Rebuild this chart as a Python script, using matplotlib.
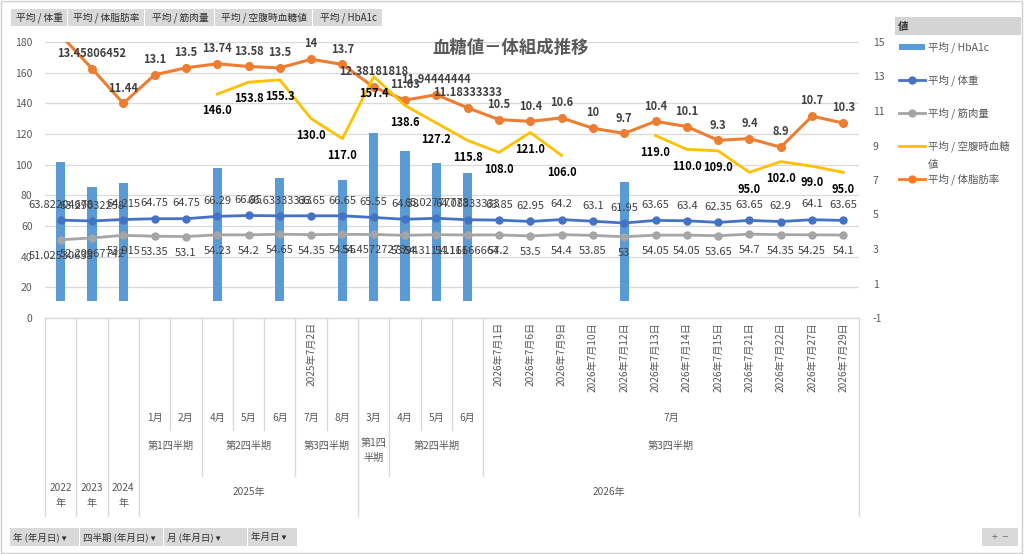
import numpy as np
import matplotlib
matplotlib.use("Agg")
import matplotlib.pyplot as plt
from matplotlib.patches import Rectangle
from matplotlib.lines import Line2D
from matplotlib.transforms import blended_transform_factory

plt.rcParams['font.family'] = ['Noto Sans CJK JP', 'DejaVu Sans']
plt.rcParams['axes.unicode_minus'] = False

nan = np.nan
# ---------------- data ----------------
years = ["2022年", "2023年", "2024年", "2025年", "2026年"]
date_labels = {8: "2025年7月2日", 14: "2026年7月1日", 15: "2026年7月6日", 16: "2026年7月9日",
               17: "2026年7月10日", 18: "2026年7月12日", 19: "2026年7月13日", 20: "2026年7月14日",
               21: "2026年7月15日", 22: "2026年7月21日", 23: "2026年7月22日", 24: "2026年7月27日",
               25: "2026年7月29日"}
month_labels = {3: "1月", 4: "2月", 5: "4月", 6: "5月", 7: "6月", 8: "7月", 9: "8月",
                10: "3月", 11: "4月", 12: "5月", 13: "6月"}
month_span_label = ("7月", 14, 25)
quarter_labels = [("第1四半期", 3, 4), ("第2四半期", 5, 7), ("第3四半期", 8, 9),
                  ("第1四\n半期", 10, 10), ("第2四半期", 11, 13), ("第3四半期", 14, 25)]
year_labels = [("2022\n年", 0, 0), ("2023\n年", 1, 1), ("2024\n年", 2, 2),
               ("2025年", 3, 9), ("2026年", 10, 25)]

hba1c = [8.06, 6.58, 6.81, nan, nan, 7.72, nan, 7.10, nan, 7.0, 9.7, 8.70, 8.0, 7.39,
         nan, nan, nan, nan, 6.9, nan, nan, nan, nan, nan, nan, nan]
weight = [63.82204678, 63.29032258, 64.215, 64.75, 64.75, 66.29, 66.85, 66.63333333, 66.65,
          66.65, 65.55, 64.38, 65.02777778, 64.08333333, 63.85, 62.95, 64.2, 63.1, 61.95,
          63.65, 63.4, 62.35, 63.65, 62.9, 64.1, 63.65]
muscle = [51.02530638, 52.20967742, 53.915, 53.35, 53.1, 54.23, 54.2, 54.65, 54.35, 54.55,
          54.45727273, 53.94, 54.31111111, 54.16666667, 54.2, 53.5, 54.4, 53.85, 53.0,
          54.05, 54.05, 53.65, 54.7, 54.35, 54.25, 54.1]
glucose = [nan, nan, nan, nan, nan, 146.0, 153.8, 155.3, 130.0, 117.0, 157.4, 138.6, 127.2,
           115.8, 108.0, 121.0, 106.0, nan, nan, 119.0, 110.0, 109.0, 95.0, 102.0, 99.0, 95.0]
fat = [15.4, 13.45806452, 11.44, 13.1, 13.5, 13.74, 13.58, 13.5, 14, 13.7, 12.38181818, 11.63,
       11.94444444, 11.18333333, 10.5, 10.4, 10.6, 10, 9.7, 10.4, 10.1, 9.3, 9.4, 8.9, 10.7, 10.3]

field_buttons = ["平均 / 体重", "平均 / 体脂肪率", "平均 / 筋肉量", "平均 / 空腹時血糖値", "平均 / HbA1c"]
leg_texts = ["平均 / HbA1c", "平均 / 体重", "平均 / 筋肉量", "平均 / 空腹時血糖", "平均 / 体脂肪率"]
left_ticks = list(range(0, 181, 20))
right_ticks = list(range(-1, 16, 2))

C_BAR = "#5B9BD5"; C_W = "#4472C4"; C_M = "#A5A5A5"; C_G = "#FFC000"; C_F = "#ED7D31"
TXT = "#595959"; LBL = "#404040"

W, H = 1024, 554
fig = plt.figure(figsize=(W / 100, H / 100), dpi=100)
fig.patch.set_facecolor("white")

def fy(py):
    return 1 - py / H

def fx(px):
    return px / W

L, R, T, B = 45, 859, 42, 318
rect = [fx(L), fy(B), fx(R) - fx(L), fy(T) - fy(B)]
ax = fig.add_axes(rect)          # background: grid + left ticks
ax_r = ax.twinx()                # right scale: bars + fat
ax_l = ax.twinx()                # left scale lines on top

n = len(weight)
x = np.arange(n)
for a in (ax, ax_r, ax_l):
    a.set_xlim(-0.5, n - 0.5)
    for s in a.spines.values():
        s.set_visible(False)
    a.set_xticks([])
    a.patch.set_visible(False)
ax.set_ylim(0, 180)
ax_l.set_ylim(0, 180)
ax_r.set_ylim(-1, 15)

ax.set_yticks(left_ticks)
ax.yaxis.grid(True, color="#D9D9D9", lw=0.9)
ax.tick_params(axis='y', length=0, pad=9, labelsize=7.5, labelcolor=TXT)
ax_r.set_yticks(right_ticks)
ax_r.tick_params(axis='y', length=0, pad=10, labelsize=7.5, labelcolor=TXT)
ax_l.set_yticks([])

# bars (secondary)
ax_r.bar(x, hba1c, width=0.29, color=C_BAR, zorder=2)
# fat line (secondary)
ax_r.plot(x, fat, color=C_F, lw=2.2, marker='o', ms=5.5, zorder=3)
# primary lines
ax_l.plot(x, weight, color=C_W, lw=2.0, marker='o', ms=5, zorder=3)
ax_l.plot(x, muscle, color=C_M, lw=2.0, marker='o', ms=5, zorder=3)
ax_l.plot(x, glucose, color=C_G, lw=2.0, zorder=3)

def fmt_g(v):
    return f"{v:.10g}"

for i in range(n):
    ax_l.annotate(fmt_g(weight[i]), (x[i], weight[i]), xytext=(0, 11), textcoords='offset points',
                  ha='center', va='center', fontsize=8, color=LBL, zorder=5)
    ax_l.annotate(fmt_g(muscle[i]), (x[i], muscle[i]), xytext=(0, -11.5), textcoords='offset points',
                  ha='center', va='center', fontsize=8, color=LBL, zorder=5)
    if not np.isnan(glucose[i]):
        ax_l.annotate(f"{glucose[i]:.1f}", (x[i], glucose[i]), xytext=(0, -12), textcoords='offset points',
                      ha='center', va='center', fontsize=8, color="black", fontweight='bold', zorder=5)
    ax_r.annotate(fmt_g(fat[i]), (x[i], fat[i]), xytext=(0, 11), textcoords='offset points',
                  ha='center', va='center', fontsize=8, color=LBL, fontweight='bold', zorder=5)

# title
fig.text(fx(511), fy(48), "血糖値－体組成推移", ha='center', va='center', fontsize=12.5,
         fontweight='bold', color=TXT)

# ---------------- category axis table ----------------
tr = blended_transform_factory(ax.transData, fig.transFigure)
line_c = "#D9D9D9"
fig.add_artist(Line2D([-0.5, n - 0.5], [fy(B), fy(B)], transform=tr, color=line_c, lw=1))
full_b, month_b, quarter_b = fy(516), fy(430), fy(476)
bounds = {0: full_b, 1: full_b, 2: full_b, 3: full_b, 4: month_b, 5: quarter_b, 6: month_b,
          7: month_b, 8: quarter_b, 9: month_b, 10: full_b, 11: quarter_b, 12: month_b,
          13: month_b, 14: quarter_b, n: full_b}
for k, yb in bounds.items():
    fig.add_artist(Line2D([k - 0.5, k - 0.5], [fy(B), yb], transform=tr, color=line_c, lw=1))

cat_fs = 7.3
for k, s in date_labels.items():
    fig.text(k, fy(322), s, transform=tr, rotation=90, ha='center', va='top',
             fontsize=cat_fs, color=TXT)
for k, s in month_labels.items():
    fig.text(k, fy(418), s, transform=tr, ha='center', va='center', fontsize=cat_fs, color=TXT)
s, a0, a1 = month_span_label
fig.text((a0 + a1) / 2, fy(418), s, transform=tr, ha='center', va='center', fontsize=cat_fs, color=TXT)
for s, a0, a1 in quarter_labels:
    if "\n" in s:
        fig.text((a0 + a1) / 2, fy(438), s, transform=tr, ha='center', va='top',
                 fontsize=cat_fs, color=TXT, linespacing=1.6)
    else:
        fig.text((a0 + a1) / 2, fy(446), s, transform=tr, ha='center', va='center',
                 fontsize=cat_fs, color=TXT)
for s, a0, a1 in year_labels:
    if "\n" in s:
        fig.text((a0 + a1) / 2, fy(483), s, transform=tr, ha='center', va='top',
                 fontsize=cat_fs, color=TXT, linespacing=1.6)
    else:
        fig.text((a0 + a1) / 2, fy(492), s, transform=tr, ha='center', va='center',
                 fontsize=cat_fs, color=TXT)

# ---------------- legend (manual) ----------------
fig.add_artist(Rectangle((fx(895), fy(35)), fx(1021) - fx(895), fy(17) - fy(35),
                         transform=fig.transFigure, facecolor="#D4D4D4", edgecolor="none"))
fig.text(fx(898), fy(26.5), "値", ha='left', va='center', fontsize=7.5, fontweight='bold', color="#303030")
ly = [47, 80, 113, 146, 179]
x0, x1 = fx(899), fx(925)
fig.add_artist(Rectangle((x0, fy(50)), x1 - x0, fy(44) - fy(50), transform=fig.transFigure,
                         facecolor=C_BAR, edgecolor="none"))
for yy, c, mk in [(ly[1], C_W, 'o'), (ly[2], C_M, 'o'), (ly[3], C_G, None), (ly[4], C_F, 'o')]:
    fig.add_artist(Line2D([x0, x1], [fy(yy), fy(yy)], transform=fig.transFigure, color=c, lw=2))
    if mk:
        fig.add_artist(Line2D([(x0 + x1) / 2], [fy(yy)], transform=fig.transFigure, color=c,
                              marker='o', ms=5, lw=0))
for yy, s in zip(ly, leg_texts):
    fig.text(fx(928), fy(yy), s, ha='left', va='center', fontsize=7.5, color=TXT)
fig.text(fx(928), fy(165), "値", ha='left', va='center', fontsize=7.5, color=TXT)

# ---------------- field buttons ----------------
btn_x = [11, 68, 145, 215, 313, 383]
for i, s in enumerate(field_buttons):
    fig.add_artist(Rectangle((fx(btn_x[i]), fy(26)), fx(btn_x[i + 1]) - fx(btn_x[i]) - fx(1), fy(9) - fy(26),
                             transform=fig.transFigure, facecolor="#D9D9D9", edgecolor="none"))
    fig.text(fx((btn_x[i] + btn_x[i + 1]) / 2), fy(17.5), s, ha='center', va='center',
             fontsize=7, color="#303030")

bottom_btns = ["年 (年月日) ▾", "四半期 (年月日) ▾", "月 (年月日) ▾", "年月日 ▾"]
bb_x = [10, 80, 164, 248, 298]
for i, s in enumerate(bottom_btns):
    fig.add_artist(Rectangle((fx(bb_x[i]), fy(546)), fx(bb_x[i + 1]) - fx(bb_x[i]) - fx(1), fy(528) - fy(546),
                             transform=fig.transFigure, facecolor="#D9D9D9", edgecolor="none"))
    fig.text(fx(bb_x[i] + 3), fy(537), s, ha='left', va='center', fontsize=6.8, color="#303030")
fig.add_artist(Rectangle((fx(982), fy(546)), fx(1018) - fx(982), fy(528) - fy(546),
                         transform=fig.transFigure, facecolor="#D9D9D9", edgecolor="none"))
fig.text(fx(1000), fy(537), "+  −", ha='center', va='center', fontsize=7.5, color="#707070")

# figure border
fig.add_artist(Rectangle((0.0005, 0.001), 0.998, 0.997, transform=fig.transFigure,
                         facecolor="none", edgecolor="#D0D0D0", lw=1))

fig.savefig("out.png", dpi=100)
